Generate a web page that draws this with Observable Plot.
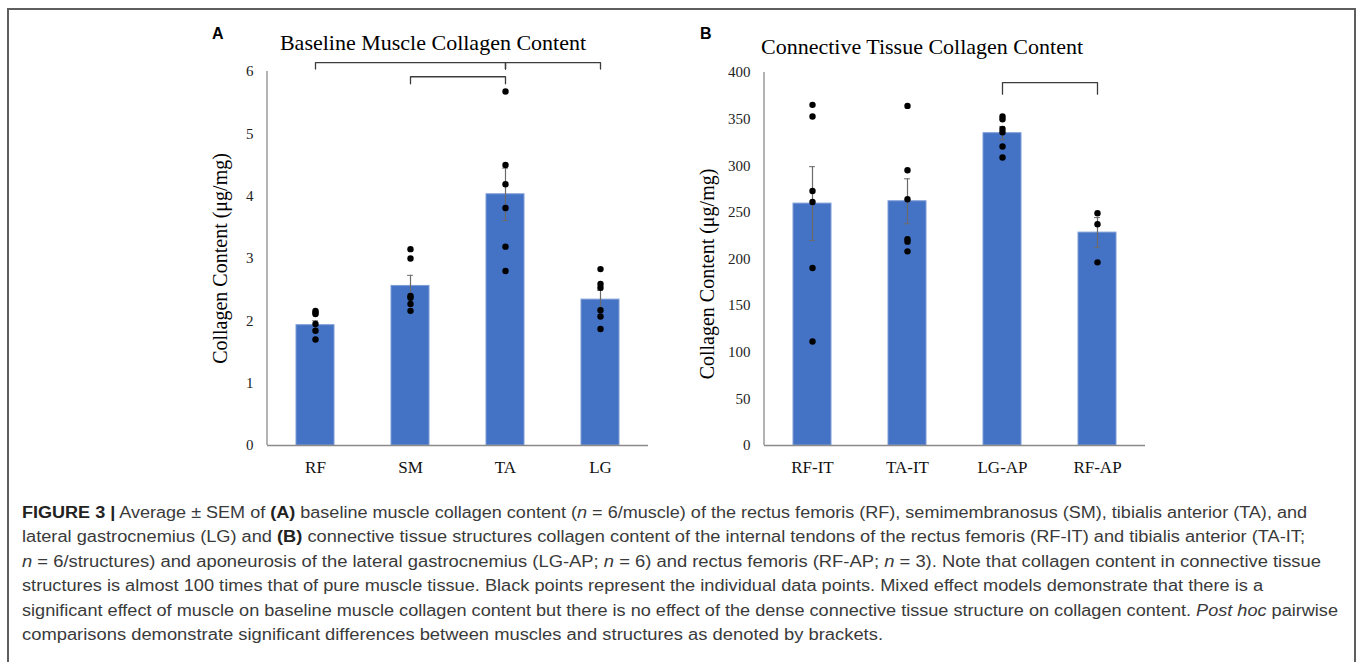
<!DOCTYPE html>
<html><head><meta charset="utf-8">
<script src="https://cdn.jsdelivr.net/npm/d3@7"></script>
<script src="https://cdn.jsdelivr.net/npm/@observablehq/plot@0.6"></script>
<style>
html,body{margin:0;padding:0;background:#fff}
body{width:1357px;height:662px;overflow:hidden;position:relative;font-family:"Liberation Serif","Times New Roman",serif}
#frame{position:absolute;left:7px;top:8px;width:1345px;height:720px;border:2px solid #5e5e5e;border-bottom:none}
.panel{position:absolute;top:20px}
.title{position:absolute;font-family:"Liberation Serif","Times New Roman",serif;font-size:22px;color:#000;white-space:nowrap;transform:translateX(-50%)}
.letter{position:absolute;font-family:"Liberation Sans",Arial,sans-serif;font-weight:bold;font-size:16px;color:#000}
.cap{position:absolute;left:22px;font-family:"Liberation Sans",Arial,sans-serif;font-size:16px;color:#3a3a3a;white-space:nowrap;transform-origin:0 50%;line-height:20px}
.cap b{color:#222}
</style>
</head><body>
<div id="frame"></div>
<div class="letter" style="left:212px;top:25px">A</div>
<div class="letter" style="left:700px;top:25px">B</div>
<div class="title" style="left:433px;top:30px">Baseline Muscle Collagen Content</div>
<div class="title" style="left:922px;top:34px">Connective Tissue Collagen Content</div>
<div id="pa" class="panel" style="left:180px"></div>
<div id="pb" class="panel" style="left:680px"></div>
<div id="caption"></div>
<script>
// ---- Panel A: baseline muscle collagen content (µg/mg)
const musclesA = ["RF", "SM", "TA", "LG"];
const meanA = [1.93, 2.56, 4.03, 2.34];
const semA = [0.07, 0.17, 0.42, 0.15];
const pointsA = [
  [2.16, 2.13, 2.11, 1.95, 1.84, 1.70],
  [3.15, 3.00, 2.40, 2.37, 2.27, 2.16],
  [5.68, 4.50, 4.19, 3.81, 3.19, 2.80],
  [2.83, 2.59, 2.53, 2.17, 2.07, 1.87]
];
const ticksA = [0, 1, 2, 3, 4, 5, 6];
const bracketsA = [["RF", "TA", 0], ["SM", "TA", 1], ["TA", "LG", 0]];

// ---- Panel B: connective tissue collagen content (µg/mg)
const structuresB = ["RF-IT", "TA-IT", "LG-AP", "RF-AP"];
const meanB = [259.4, 261.9, 334.9, 228.3];
const semB = [39.6, 24.1, 7.0, 16.1];
const pointsB = [
  [365.3, 352.8, 273.0, 261.2, 190.3, 111.6],
  [364.2, 295.2, 264.0, 221.1, 218.6, 208.2],
  [352.8, 349.9, 339.5, 335.9, 320.6, 308.8],
  [249.0, 237.2, 196.4]
];
const ticksB = [0, 50, 100, 150, 200, 250, 300, 350, 400];
const bracketsB = [["LG-AP", "RF-AP", 0]];

const yLabel = "Collagen Content (\u03bcg/mg)";

function panel(o) {
  const data = o.cats.map((c, i) => ({cat: c, mean: o.mean[i], sem: o.sem[i]}));
  const pts = o.cats.flatMap((c, i) => o.points[i].map(v => ({cat: c, v})));
  const top = o.ticks[o.ticks.length - 1];
  const br = o.brackets.flatMap(([a, b, lv], k) => {
    const [yh, yl] = o.bracketLevels[lv].map(f => top * f);
    return [{k, x: a, y: yl}, {k, x: a, y: yh}, {k, x: b, y: yh}, {k, x: b, y: yl}];
  });
  const plotW = 381, bw = plotW / 4 * 0.4;
  return Plot.plot({
    width: o.marginLeft + plotW + 12,
    height: 465,
    marginLeft: o.marginLeft, marginRight: 12, marginTop: o.marginTop, marginBottom: 40,
    style: {fontFamily: '"Liberation Serif","Times New Roman",serif', background: "transparent", overflow: "visible"},
    x: {domain: o.cats, paddingInner: 0.6, paddingOuter: 0.3, label: null},
    y: {domain: [0, top], label: null},
    marks: [
      Plot.barY(data, {x: "cat", y: "mean", fill: "#4472C4", stroke: "#7d9bd6", strokeWidth: 1}),
      Plot.ruleX(data, {x: "cat", y1: d => d.mean - d.sem, y2: d => d.mean + d.sem, stroke: "#6b6b6b", strokeWidth: 1.2}),
      Plot.tickY(data, {x: "cat", y: d => d.mean + d.sem, stroke: "#6b6b6b", strokeWidth: 1, insetLeft: (bw - 6) / 2, insetRight: (bw - 6) / 2}),
      Plot.tickY(data, {x: "cat", y: d => d.mean - d.sem, stroke: "#6b6b6b", strokeWidth: 1, insetLeft: (bw - 6) / 2, insetRight: (bw - 6) / 2}),
      Plot.dot(pts, {x: "cat", y: "v", r: 3.2, fill: "#000", stroke: "none"}),
      Plot.line(br, {x: "x", y: "y", z: "k", stroke: "#3c3c3c", strokeWidth: 1.3}),
      Plot.ruleY([0], {stroke: "#8a8a8a", strokeWidth: 1.3}),
      (index, scales, values, dims) => {
        const l = document.createElementNS("http://www.w3.org/2000/svg", "line");
        l.setAttribute("x1", dims.marginLeft); l.setAttribute("x2", dims.marginLeft);
        l.setAttribute("y1", dims.marginTop); l.setAttribute("y2", dims.height - dims.marginBottom);
        l.setAttribute("stroke", "#8a8a8a"); l.setAttribute("stroke-width", 1.3);
        return l;
      },
      Plot.axisY({ticks: o.ticks, tickSize: 0, tickPadding: 14, fontSize: 15, label: null, tickFormat: d => String(d), fill: "#222"}),
      Plot.axisX({tickSize: 0, tickPadding: 15, fontSize: 17, label: null, fill: "#111"}),
      Plot.text([yLabel], {text: d => d, frameAnchor: "left", textAnchor: "middle", rotate: -90, dx: o.labelDx, dy: o.labelDy, fontSize: 20, fill: "#000"})
    ]
  });
}

document.getElementById("pa").appendChild(panel({
  cats: musclesA, mean: meanA, sem: semA, points: pointsA, ticks: ticksA,
  brackets: bracketsA, bracketLevels: [[1.0235, 1.0065], [0.986, 0.967]],
  marginLeft: 87, marginTop: 51, labelDx: -47, labelDy: 0
}));
document.getElementById("pb").appendChild(panel({
  cats: structuresB, mean: meanB, sem: semB, points: pointsB, ticks: ticksB,
  brackets: bracketsB, bracketLevels: [[0.973, 0.942]],
  marginLeft: 84, marginTop: 52, labelDx: -57, labelDy: 15
}));

// ---- Caption
const captionLines = [
  '<b>FIGURE 3 |</b> Average \u00b1 SEM of <b>(A)</b> baseline muscle collagen content (<i>n</i> = 6/muscle) of the rectus femoris (RF), semimembranosus (SM), tibialis anterior (TA), and',
  'lateral gastrocnemius (LG) and <b>(B)</b> connective tissue structures collagen content of the internal tendons of the rectus femoris (RF-IT) and tibialis anterior (TA-IT;',
  '<i>n</i> = 6/structures) and aponeurosis of the lateral gastrocnemius (LG-AP; <i>n</i> = 6) and rectus femoris (RF-AP; <i>n</i> = 3). Note that collagen content in connective tissue',
  'structures is almost 100 times that of pure muscle tissue. Black points represent the individual data points. Mixed effect models demonstrate that there is a',
  'significant effect of muscle on baseline muscle collagen content but there is no effect of the dense connective tissue structure on collagen content. <i>Post hoc</i> pairwise',
  'comparisons demonstrate significant differences between muscles and structures as denoted by brackets.'
];
const captionWidths = [1285, 1283, 1299, 1241, 1316, 861];
const cap = document.getElementById("caption");
captionLines.forEach((t, i) => {
  const d = document.createElement("div");
  d.className = "cap";
  d.style.top = (503 + i * 24.4) + "px";
  d.innerHTML = t;
  cap.appendChild(d);
  const w = d.getBoundingClientRect().width;
  d.style.transform = `scaleX(${captionWidths[i] / w})`;
});
</script>
</body></html>
